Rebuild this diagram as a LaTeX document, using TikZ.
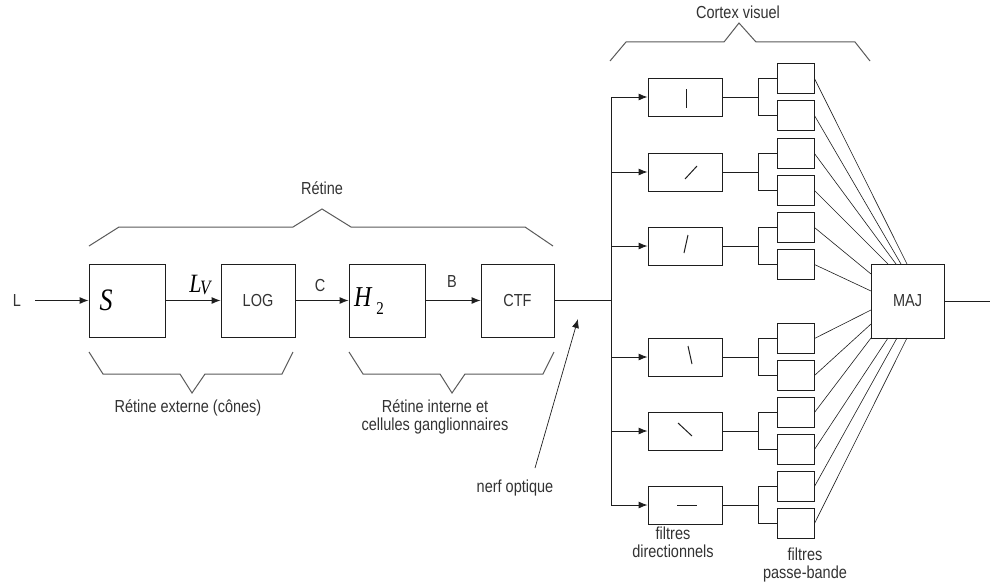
\documentclass[tikz,border=0pt]{standalone}
\usepackage{fontspec}
\usepackage{graphicx}
\setmainfont{Liberation Sans}
\newfontfamily\tnr{Liberation Serif}
\usetikzlibrary{arrows.meta,calc}
\newcommand\st[1]{\scalebox{1}[1.2]{#1}}
\definecolor{ink}{HTML}{1E1E1E}
\definecolor{txtc}{HTML}{333333}
\definecolor{brc}{HTML}{5A5A5A}
\tikzset{
  box/.style={draw=ink, line width=0.9pt, fill=white, inner sep=0pt},
  txt/.style={text=txtc, font=\fontsize{14.5}{17}\selectfont, inner sep=0pt, align=center},
  arr/.style={draw=ink, line width=0.9pt, -{Latex[length=9pt,width=7pt]}},
  ln/.style={draw=ink, line width=0.9pt},
  fan/.style={draw=ink, line width=0.6pt},
  brace/.style={draw=brc, line width=1pt},
  glyph/.style={draw=ink, line width=1pt}
}
\begin{document}
\begin{tikzpicture}[x=1pt,y=-1pt]
\useasboundingbox (0,0) rectangle (990,586);
\fill[white] (0,0) rectangle (990,586);

% main chain
\node[txt, inner xsep=14pt] (L) at (17,300.5) {\st{L}};
\node[box, minimum width=76pt, minimum height=73pt] (S) at (127,300.5) {};
\node[box, minimum width=74pt, minimum height=73pt] (LOG) at (258,300.5) {\st{\textcolor{txtc}{\fontsize{14.5}{17}\selectfont LOG}}};
\node[box, minimum width=76pt, minimum height=73pt] (H) at (387,300.5) {};
\node[box, minimum width=73pt, minimum height=73pt] (CTF) at (517.5,300.5) {\st{\textcolor{txtc}{\fontsize{14.5}{17}\selectfont CTF}}};

\node[inner sep=0pt] (Slbl) at (106,300) {\st{\tnr\fontsize{26}{26}\selectfont\itshape S}};
\node[inner sep=0pt] (LVlbl) at (200,285) {\st{\tnr\itshape\fontsize{22}{22}\selectfont L\kern-1.5pt\raisebox{-2pt}{\fontsize{17}{17}\selectfont V}}};
\node[inner sep=0pt] (Hlbl) at (369,301) {\st{\tnr\fontsize{24}{24}\selectfont\itshape H\kern5pt\raisebox{-6pt}{\upshape\fontsize{15}{15}\selectfont 2}}};
\node[txt] (Clbl) at (320,286) {\st{C}};
\node[txt] (Blbl) at (452,282) {\st{B}};

\draw[arr] (L.east) -- (S.west);
\draw[arr] (S.east) -- (LOG.west);
\draw[arr] (LOG.east) -- (H.west);
\draw[arr] (H.east) -- (CTF.west);

\coordinate (J) at (611,300.5);
\coordinate (Vt) at (611,97);
\coordinate (Vb) at (611,505);
\draw[ln] (CTF.east) -- (J);
\draw[ln] (Vt) -- (Vb);

% braces
\draw[brace] (89,246) -- (119,227) -- (293,227) -- (322,209) -- (351,227) -- (525,227) -- (553,246);
\draw[brace] (610,61) -- (626,42) -- (724,42) -- (739,23) -- (756,42) -- (855,42) -- (870,61);
\draw[brace] (89,352) -- (103,374) -- (180,374) -- (192,393) -- (205,374) -- (282,374) -- (293,352);
\draw[brace] (349,352) -- (363,374) -- (440,374) -- (452,393) -- (465,374) -- (543,374) -- (554,352);

\node[txt] (retine) at (322,188) {\st{Rétine}};
\node[txt] (cortex) at (738,12) {\st{Cortex visuel}};
\node[txt] (rext) at (188,408) {\st{Rétine externe (cônes)}};
\node[txt] (rint) at (435,417) {\st{Rétine interne et}\\[1pt]\st{cellules ganglionnaires}};
\node[txt] (nerf) at (515,488) {\st{nerf optique}};
\node[txt] (fdir) at (673,542) {\st{filtres}\\[1pt]\st{directionnels}};
\node[txt] (fpb) at (805,565) {\st{filtres}\\[1pt]\st{passe-bande}};

\coordinate (NA) at (535,468);
\coordinate (NB) at (578,319);
\draw[arr, line width=0.7pt] (NA) -- (NB);

% MAJ
\node[box, minimum width=73pt, minimum height=74pt] (MAJ) at (907.5,301) {\st{\textcolor{txtc}{\fontsize{14.5}{17}\selectfont MAJ}}};
\coordinate (Out) at (990,301);
\draw[ln] (MAJ.east) -- (Out);

% cortex rows
\foreach \i/\y in {1/97,2/172,3/246,4/357,5/431,6/505}{
  \coordinate (T\i) at (611,\y);
  \node[box, minimum width=74pt, minimum height=38pt] (D\i) at (685,\y) {};
  \draw[arr] (T\i) -- (D\i.west);
  \node[box, minimum width=37pt, minimum height=30pt] (Pa\i) at (795.5,\y-18.5) {};
  \node[box, minimum width=37pt, minimum height=30pt] (Pb\i) at (795.5,\y+18.5) {};
  \coordinate (F\i) at (758,\y);
  \draw[ln] (D\i.east) -- (F\i);
  \draw[ln] (Pa\i.west) -| (F\i) |- (Pb\i.west);
}

% glyphs in direction filters
\draw[glyph] (686,89) -- (686,108);
\draw[glyph] (685,179) -- (697,166);
\draw[glyph] (684,253) -- (688,235);
\draw[glyph] (688,346) -- (692,364);
\draw[glyph] (678,423) -- (692,436);
\draw[glyph] (677,505) -- (697,505);

% fan-in to MAJ
\coordinate (M1) at (907,264);
\coordinate (M2) at (901,264);
\coordinate (M3) at (896,264);
\coordinate (M4) at (888,264);
\coordinate (M5) at (871,274);
\coordinate (M6) at (871,291);
\coordinate (M7) at (871,310);
\coordinate (M8) at (871,324);
\coordinate (M9) at (871,338);
\coordinate (M10) at (888,338);
\coordinate (M11) at (897,338);
\coordinate (M12) at (907,338);
\draw[fan] (Pa1.east) -- (M1);
\draw[fan] (Pb1.east) -- (M2);
\draw[fan] (Pa2.east) -- (M3);
\draw[fan] (Pb2.east) -- (M4);
\draw[fan] (Pa3.east) -- (M5);
\draw[fan] (Pb3.east) -- (M6);
\draw[fan] (Pa4.east) -- (M7);
\draw[fan] (Pb4.east) -- (M8);
\draw[fan] (Pa5.east) -- (M9);
\draw[fan] (Pb5.east) -- (M10);
\draw[fan] (Pa6.east) -- (M11);
\draw[fan] (Pb6.east) -- (M12);
\end{tikzpicture}
\end{document}
